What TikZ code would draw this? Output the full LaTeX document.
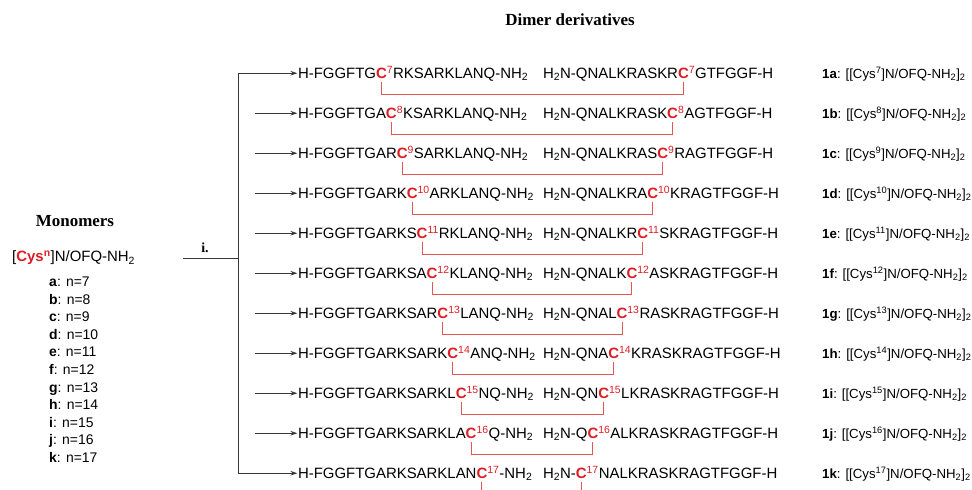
\documentclass[tikz,border=0pt]{standalone}
\usepackage{fontspec}
\setmainfont{Liberation Serif}
\setsansfont{Liberation Sans}
\usetikzlibrary{arrows.meta,calc}
\definecolor{cred}{RGB}{222,28,36}
\definecolor{bondred}{RGB}{228,86,86}
\definecolor{lineg}{RGB}{55,55,55}
\newcommand{\strandfont}{\sffamily\fontsize{15}{18}\selectfont}
\newcommand{\labfont}{\sffamily\fontsize{13.3}{16}\selectfont}
\newcommand{\monofont}{\sffamily\fontsize{14}{17}\selectfont}
\newcommand{\cysC}{{\color{cred}\bfseries C}}
\tikzset{
  txt/.style={anchor=base west,inner sep=0pt,outer sep=0pt,font=\strandfont},
  lab/.style={anchor=base west,inner sep=0pt,font=\labfont},
  mono/.style={anchor=base west,inner sep=0pt,font=\monofont},
  ttl/.style={inner sep=0pt,font=\rmfamily\bfseries\fontsize{17}{20}\selectfont},
  bond/.style={draw=bondred,line width=0.9bp},
  conn/.style={draw=lineg,line width=0.9bp},
  arr/.style={conn,-{Stealth[length=7bp,width=4.5bp]},shorten >=0.5bp},
}
\newcommand{\dimerrow}[8]{%
  \node[txt] (lp#1) at (298,#8) {H-#3};
  \node[txt] (lc#1) at (lp#1.base east) {\cysC};
  \node[txt] (ls#1) at (lc#1.base east) {\textsuperscript{\color{cred}#2}#4-NH\textsubscript{2}};
  \node[txt] (rp#1) at (543,#8) {H\textsubscript{2}N-#5};
  \node[txt] (rc#1) at (rp#1.base east) {\cysC};
  \node[txt] (rs#1) at (rc#1.base east) {\textsuperscript{\color{cred}#2}#6-H};
  \node[lab] (lab#1) at (822,#8) {\textbf{1#7}: [[Cys\textsuperscript{#2}]N/OFQ-NH\textsubscript{2}]\textsubscript{2}};
}
\begin{document}
\begin{tikzpicture}[x=1bp,y=-1bp]
\useasboundingbox (0,0) rectangle (972,490);

\node[ttl] (title) at (570,20) {Dimer derivatives};

% dimer rows
\dimerrow{0}{7}{FGGFTG}{RKSARKLANQ}{QNALKRASKR}{GTFGGF}{a}{78.4}
\dimerrow{1}{8}{FGGFTGA}{KSARKLANQ}{QNALKRASK}{AGTFGGF}{b}{118.4}
\dimerrow{2}{9}{FGGFTGAR}{SARKLANQ}{QNALKRAS}{RAGTFGGF}{c}{158.4}
\dimerrow{3}{10}{FGGFTGARK}{ARKLANQ}{QNALKRA}{KRAGTFGGF}{d}{198.4}
\dimerrow{4}{11}{FGGFTGARKS}{RKLANQ}{QNALKR}{SKRAGTFGGF}{e}{238.4}
\dimerrow{5}{12}{FGGFTGARKSA}{KLANQ}{QNALK}{ASKRAGTFGGF}{f}{278.4}
\dimerrow{6}{13}{FGGFTGARKSAR}{LANQ}{QNAL}{RASKRAGTFGGF}{g}{318.4}
\dimerrow{7}{14}{FGGFTGARKSARK}{ANQ}{QNA}{KRASKRAGTFGGF}{h}{358.4}
\dimerrow{8}{15}{FGGFTGARKSARKL}{NQ}{QN}{LKRASKRAGTFGGF}{i}{398.4}
\dimerrow{9}{16}{FGGFTGARKSARKLA}{Q}{Q}{ALKRASKRAGTFGGF}{j}{438.4}
\dimerrow{10}{17}{FGGFTGARKSARKLAN}{}{}{NALKRASKRAGTFGGF}{k}{478.4}

% disulfide brackets
\foreach \k in {0,...,9}{
  \draw[bond] ([yshift=-3bp]lc\k.south) -- ++(0pt,-13bp) -| ([yshift=-3bp]rc\k.south);
}
\coordinate (bedge) at (0,495);
\draw[bond] ([yshift=-3bp]lc10.south) -- (lc10.south |- bedge);
\draw[bond] ([yshift=-3bp]rc10.south) -- (rc10.south |- bedge);

% reaction arrows
\coordinate (vx) at (238,0);
\coordinate (vtop) at (lp0.west -| vx);
\coordinate (vbot) at (lp10.west -| vx);
\draw[conn] (vtop) -- (vbot);
\draw[arr] (vtop) -- (lp0.west);
\draw[arr] (vbot) -- (lp10.west);
\foreach \k in {1,...,9}{
  \coordinate (as\k) at ($(lp\k.west)+(-43bp,0pt)$);
  \draw[arr] (as\k) -- (lp\k.west);
}
\coordinate (iL) at (183,258);
\coordinate (iR) at (238,258);
\draw[conn] (iL) -- (iR);
\node[inner sep=0pt,font=\rmfamily\bfseries\fontsize{14}{16}\selectfont] (ilab) at (205,248) {i.};

% monomers
\node[ttl] (mtitle) at (75,221) {Monomers};
\node[anchor=base west,inner sep=0pt,font=\strandfont] (mono0) at (12,262) {[{\color{cred}\bfseries Cys\textsuperscript{n}}]N/OFQ-NH\textsubscript{2}};
\foreach \l/\n [count=\i from 0] in {a/7,b/8,c/9,d/10,e/11,f/12,g/13,h/14,i/15,j/16,k/17}{
  \node[mono] (m\l) at (49,{287+17.5*\i}) {\textbf{\l}: n=\n};
}
\end{tikzpicture}
\end{document}
